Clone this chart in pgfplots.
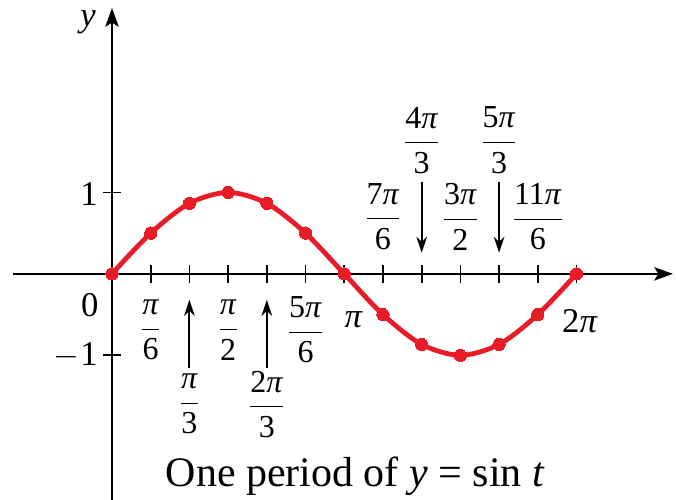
\documentclass[border=0pt]{standalone}
\usepackage{pgfplots}
\pgfplotsset{compat=1.18}
\usepackage{fontspec}
\setmainfont{Liberation Serif}
\usetikzlibrary{arrows.meta}
\definecolor{sinered}{RGB}{232,28,38}
% fraction built from text-font pieces
\newcommand\fr[2]{$\displaystyle\frac{\mbox{#1}}{\mbox{#2}}$}
\newcommand\p{\textit{π}}
\tikzset{
  big/.style={font=\fontsize{26}{30}\selectfont},
  frac/.style={font=\fontsize{24}{28}\selectfont, inner sep=1pt},
  pointer/.style={line width=1.4pt, -{Stealth[length=12pt,width=8pt]}},
}
\begin{document}
\begin{tikzpicture}
\begin{axis}[
  x=55.45pt, y=61.1pt,
  axis lines=middle,
  xmin=-1.339, xmax=7.588,
  ymin=-2.773, ymax=3.264,
  clip=false,
  axis line style={line width=1.5pt, -{Stealth[length=14pt,width=10pt,inset=3pt]}},
  xtick={0.5236,1.0472,1.5708,2.0944,2.618,3.1416,3.6652,4.1888,4.7124,5.236,5.7596,6.2832},
  ytick={-1,1},
  xticklabels={}, yticklabels={},
  tick align=center,
  major tick length=13pt,
  tick style={line width=1.3pt, black},
]
\addplot[color=sinered, line width=3.6pt, smooth,
  mark=*, mark size=4.6pt, mark options={fill=sinered, draw=sinered, line width=0pt}]
  coordinates {
  (0,0) (0.5236,0.5) (1.0472,0.8660) (1.5708,1) (2.0944,0.8660) (2.618,0.5)
  (3.1416,0) (3.6652,-0.5) (4.1888,-0.8660) (4.7124,-1) (5.236,-0.8660)
  (5.7596,-0.5) (6.2832,0)
  };
% axis names
\node[big] at (axis cs:-0.325,3.09) {\textit{y}};
\node[big, anchor=west] at (axis cs:7.57,-0.54) {\textit{t}};
% y tick labels
\node[big, anchor=east] at (axis cs:-0.13,0.985) {1};
\node[big, anchor=east] at (axis cs:-0.13,-1.0) {$-$\kern1pt 1};
\node[big] at (axis cs:-0.30,-0.38) {0};
% labels below the axis
\node[frac] at (axis cs:0.5236,-0.69) {\fr{\p}{6}};
\node[frac] at (axis cs:1.5708,-0.69) {\fr{\p}{2}};
\node[frac] at (axis cs:2.618,-0.69) {\fr{5\p}{6}};
\node[frac] at (axis cs:1.0472,-1.60) {\fr{\p}{3}};
\node[frac] at (axis cs:2.0944,-1.60) {\fr{2\p}{3}};
% labels above the axis
\node[frac] at (axis cs:3.6652,0.70) {\fr{7\p}{6}};
\node[frac] at (axis cs:4.7124,0.70) {\fr{3\p}{2}};
\node[frac] at (axis cs:5.7596,0.70) {\fr{11\p}{6}};
\node[frac] at (axis cs:4.1888,1.64) {\fr{4\p}{3}};
\node[frac] at (axis cs:5.236,1.64) {\fr{5\p}{3}};
\node[big] at (axis cs:3.27,-0.56) {\p};
\node[big] at (axis cs:6.33,-0.58) {2\p};
% pointer arrows
\draw[pointer] (axis cs:1.0472,-1.15) -- (axis cs:1.0472,-0.32);
\draw[pointer] (axis cs:2.0944,-1.15) -- (axis cs:2.0944,-0.32);
\draw[pointer] (axis cs:4.1888,1.13) -- (axis cs:4.1888,0.26);
\draw[pointer] (axis cs:5.236,1.13) -- (axis cs:5.236,0.26);
% caption
\node[font=\fontsize{31.5}{36}\selectfont] at (axis cs:3.29,-2.48) {One period of \textit{y} = sin \textit{t}};
\coordinate (bl) at (axis cs:-1.515,-2.773);
\coordinate (tr) at (axis cs:7.629,3.362);
\end{axis}
\pgfresetboundingbox
\useasboundingbox (bl) rectangle (tr);
\end{tikzpicture}
\end{document}
